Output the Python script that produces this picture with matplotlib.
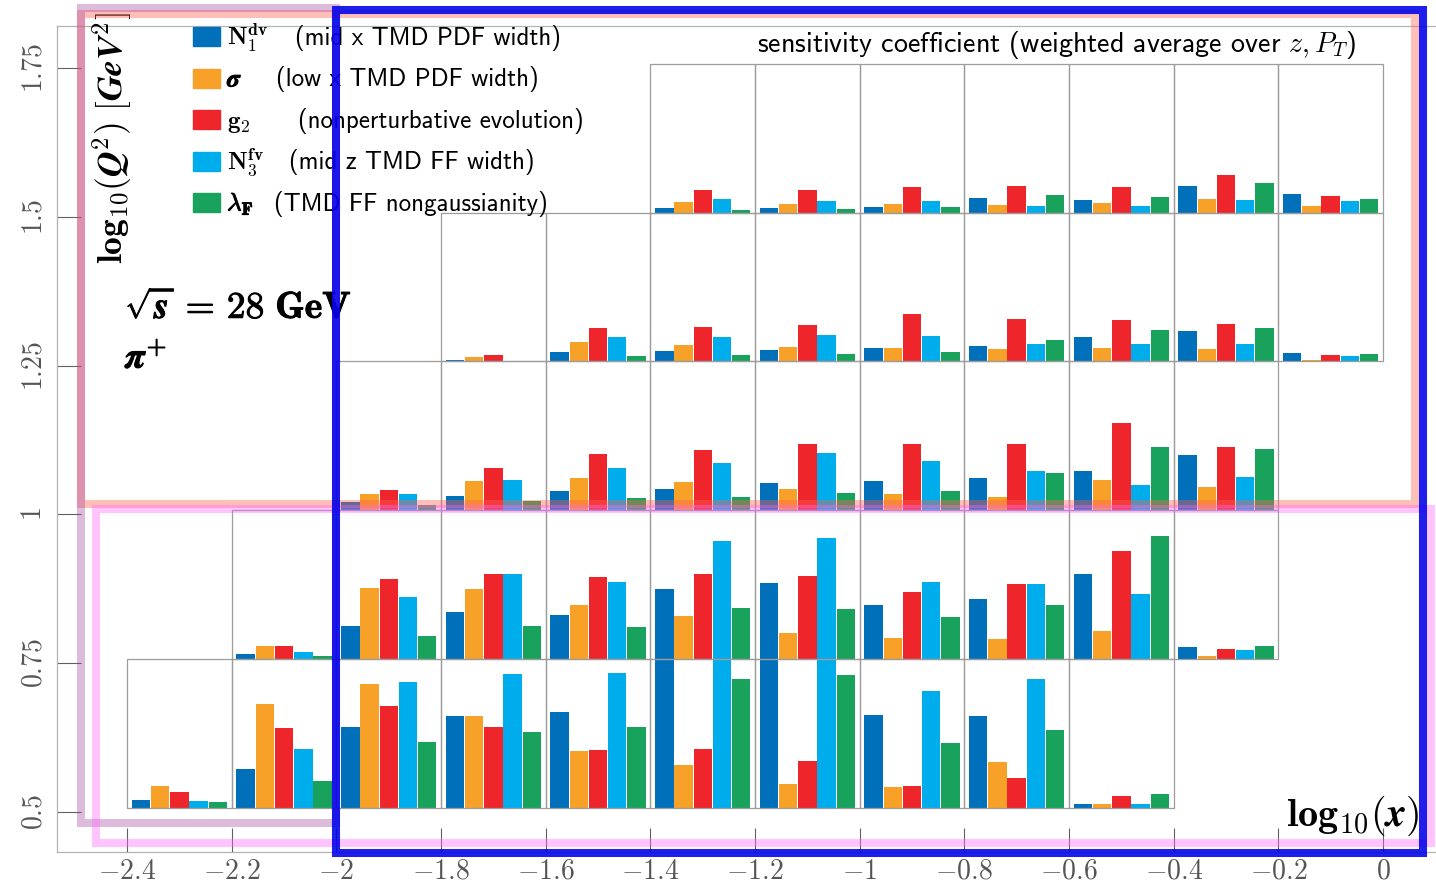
import numpy as np
import matplotlib.pyplot as plt
import matplotlib.patheffects as pe
from matplotlib.patches import Rectangle
from matplotlib.colors import to_rgba

plt.rcParams['mathtext.fontset'] = 'cm'

# kinematic bins: log10(x) and log10(Q^2)
x_edges = np.round(np.arange(-2.4, 0.01, 0.2), 1)
q_edges = [0.507, 0.757, 1.007, 1.257, 1.507, 1.757]

symbols = [r'$\mathbf{N_1^{dv}}$', r'$\boldsymbol{\sigma}$', r'$\mathbf{g_2}$',
           r'$\mathbf{N_3^{fv}}$', r'$\boldsymbol{\lambda}_\mathbf{F}$']
descr = ['(mid x TMD PDF width)', '(low x TMD PDF width)', '(nonperturbative evolution)',
         '(mid z TMD FF width)', '(TMD FF nongaussianity)']
colors = ['#0070ba', '#f7a128', '#ee262c', '#00adec', '#18a25c']

# first x bin of each Q^2 row
first_xbin = [0, 1, 2, 3, 5]

# sensitivity coefficients (N1, sigma, g2, N3, lambdaF) per x bin, in units of the bin height
sens_q0 = [[0.054, 0.148, 0.105, 0.047, 0.036],
           [0.260, 0.697, 0.538, 0.394, 0.183],
           [0.540, 0.835, 0.683, 0.847, 0.444],
           [0.614, 0.620, 0.542, 0.898, 0.513],
           [0.645, 0.383, 0.388, 0.907, 0.544],
           [1.080, 0.289, 0.394, 1.110, 0.867],
           [1.110, 0.161, 0.316, 1.140, 0.892],
           [0.625, 0.141, 0.150, 0.784, 0.437],
           [0.616, 0.307, 0.202, 0.865, 0.526],
           [0.029, 0.025, 0.081, 0.025, 0.092]]
sens_q1 = [[0.032, 0.085, 0.085, 0.049, 0.022],
           [0.222, 0.477, 0.538, 0.417, 0.155],
           [0.316, 0.468, 0.571, 0.571, 0.222],
           [0.298, 0.365, 0.551, 0.517, 0.215],
           [0.474, 0.290, 0.571, 0.793, 0.343],
           [0.511, 0.175, 0.558, 0.813, 0.336],
           [0.363, 0.143, 0.448, 0.515, 0.280],
           [0.401, 0.136, 0.504, 0.504, 0.361],
           [0.571, 0.190, 0.726, 0.437, 0.827],
           [0.079, 0.022, 0.069, 0.063, 0.087]]
sens_q2 = [[0.056, 0.110, 0.136, 0.110, 0.034],
           [0.099, 0.195, 0.286, 0.202, 0.065],
           [0.126, 0.220, 0.378, 0.284, 0.085],
           [0.146, 0.188, 0.408, 0.316, 0.089],
           [0.186, 0.146, 0.446, 0.383, 0.119],
           [0.195, 0.106, 0.442, 0.334, 0.128],
           [0.217, 0.092, 0.446, 0.264, 0.253],
           [0.267, 0.202, 0.585, 0.173, 0.423],
           [0.374, 0.155, 0.428, 0.222, 0.410]]
sens_q3 = [[0.007, 0.029, 0.040, 0.005, 0.002],
           [0.065, 0.128, 0.228, 0.166, 0.038],
           [0.067, 0.108, 0.231, 0.166, 0.040],
           [0.074, 0.094, 0.247, 0.175, 0.047],
           [0.092, 0.092, 0.318, 0.170, 0.063],
           [0.101, 0.081, 0.287, 0.116, 0.141],
           [0.161, 0.092, 0.276, 0.114, 0.210],
           [0.206, 0.085, 0.249, 0.114, 0.222],
           [0.056, 0.013, 0.040, 0.038, 0.047]]
sens_q4 = [[0.032, 0.069, 0.153, 0.089, 0.020],
           [0.032, 0.058, 0.153, 0.081, 0.022],
           [0.038, 0.058, 0.170, 0.079, 0.038],
           [0.099, 0.049, 0.179, 0.045, 0.116],
           [0.083, 0.065, 0.173, 0.045, 0.108],
           [0.181, 0.092, 0.251, 0.087, 0.200],
           [0.126, 0.042, 0.114, 0.081, 0.092]]
rows = [sens_q0, sens_q1, sens_q2, sens_q3, sens_q4]

fig = plt.figure(figsize=(14.36, 8.83), dpi=100)
ax = fig.add_axes([57 / 1436, 31 / 883, 1379 / 1436, 826 / 883])
ax.set_xlim(-2.534, 0.1013)
ax.set_ylim(0.4328, 1.8206)

bw, pitch = 0.0352, 0.0367
for iq, (sens, i0) in enumerate(zip(rows, first_xbin)):
    y0 = q_edges[iq]
    dq = q_edges[iq + 1] - y0
    for j, vals in enumerate(sens):
        x0, x1 = x_edges[i0 + j], x_edges[i0 + j + 1]
        xc = 0.5 * (x0 + x1) + (np.arange(5) - 2) * pitch
        ax.bar(xc, np.array(vals) * dq, width=bw, bottom=y0, color=colors, zorder=2)
        ax.add_patch(Rectangle((x0, y0), x1 - x0, dq, fill=False, ec='#9c9c9c', lw=0.9, zorder=3))

# axes cosmetics
for s in ['left', 'bottom', 'top']:
    ax.spines[s].set_color('#b4b4b4')
    ax.spines[s].set_linewidth(0.9)
ax.spines['right'].set_visible(False)
xt = x_edges
ax.set_xticks(xt)
ax.set_xticklabels([f'${v:g}$' for v in xt])
yt = [0.5, 0.75, 1.0, 1.25, 1.5, 1.75]
ax.set_yticks(yt)
ax.set_yticklabels([f'${v:g}$' for v in yt], rotation=90, va='center')
ax.tick_params(direction='in', length=17, width=0.8, color='#606060',
               labelsize=20, labelcolor='#555555')
ax.tick_params(axis='x', pad=3.5)
ax.tick_params(axis='y', pad=7)

# legend
bold = [pe.withStroke(linewidth=0.7, foreground='black')]
desc_x = [0.1726, 0.1588, 0.1751, 0.1682, 0.1571]
for i, (c, sym, txt, dx) in enumerate(zip(colors, symbols, descr, desc_x)):
    yy = 0.9867 - i * 0.0501
    ax.add_patch(Rectangle((0.0986, yy - 0.0115), 0.0196, 0.0230, transform=ax.transAxes,
                           color=c, clip_on=False, zorder=4))
    t = ax.text(0.1233, yy - 0.0097, sym, transform=ax.transAxes, fontsize=18, va='baseline')
    if 'boldsymbol' in sym:
        t.set_path_effects(bold)
    ax.text(dx, yy - 0.0097, txt, transform=ax.transAxes, fontsize=18,
            family='cmss10', va='baseline')

ax.text(0.9427, 0.9685, r'sensitivity coefficient (weighted average over $z, P_T$)',
        transform=ax.transAxes, ha='right', va='baseline', fontsize=20.2, family='cmss10')
ax.text(0.0493, 0.6465, r'$\sqrt{\boldsymbol{s}}\,\mathbf{=}\,\mathbf{28}\ \mathbf{GeV}$',
        transform=ax.transAxes, fontsize=27, va='baseline', path_effects=bold)
ax.text(0.0493, 0.586, r'$\boldsymbol{\pi}^{\mathbf{+}}$',
        transform=ax.transAxes, fontsize=26, va='baseline', path_effects=bold)
ax.text(0.0399, 0.8644, r'$\mathbf{log_{10}}(\boldsymbol{Q}^{\mathbf{2}})\ [\boldsymbol{GeV}^{\mathbf{2}}]$',
        transform=ax.transAxes, rotation=90, ha='center', va='center', fontsize=25.5)
ax.text(0.9884, 0.0315, r'$\mathbf{log_{10}}(\boldsymbol{x})$',
        transform=ax.transAxes, ha='right', va='baseline', fontsize=29)

# highlighted kinematic regions
regions = [((-2.488, 1.0175), (0.0612, 1.8416), '#ff6050', 0.40),
           ((-2.488, 0.4815), (-2.000, 1.8508), '#a03c9c', 0.35),
           ((-2.4594, 0.4471), (0.0908, 1.0091), '#ff66ff', 0.38),
           ((-2.000, 0.4311), (0.0764, 1.8483), '#0000ea', 0.88)]
for (xa, ya), (xb, yb), c, a in regions:
    ax.add_patch(Rectangle((xa, ya), xb - xa, yb - ya, fill=False, ec=to_rgba(c, a),
                           lw=5.8, clip_on=False, zorder=6))

fig.savefig('out.png', dpi=100, facecolor='white')
